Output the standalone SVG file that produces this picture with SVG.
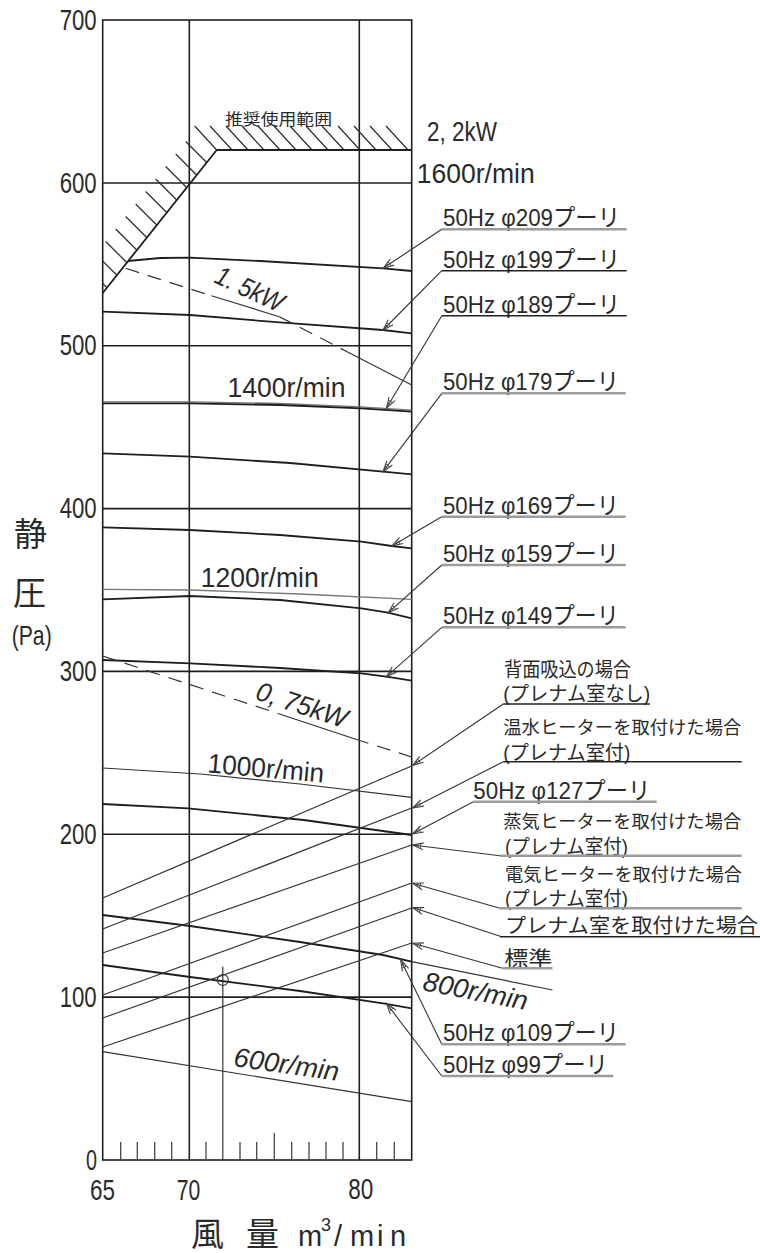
<svg xmlns="http://www.w3.org/2000/svg" width="760" height="1253" viewBox="0 0 760 1253">
<style>
text{font-family:"Liberation Sans","Noto Sans CJK JP",sans-serif;fill:#2a2a2a}
.ax{font-size:29px}
.rpm{font-size:27px}
.lbl{font-size:24px}
.jp{font-size:20px}
.jp2{font-size:18.3px}
.it{font-style:italic}
.grid{stroke:#1e1e1e;stroke-width:1.6;fill:none}
.cv{stroke:#1e1e1e;stroke-width:1.8;fill:none;stroke-linejoin:round}
.thin{stroke:#333;stroke-width:1.2;fill:none}
.gr{stroke:#777;stroke-width:1.3;fill:none}
.dash{stroke:#333;stroke-width:1.2;fill:none;stroke-dasharray:14 9}
.ld{stroke:#333;stroke-width:1.1;fill:none;marker-end:url(#ar)}
.ulg{stroke:#9c9c9c;stroke-width:2.4}
.ulb{stroke:#222;stroke-width:1.5}
.hatch{stroke:#333;stroke-width:1.3}
.tick{stroke:#444;stroke-width:1.3}
</style>
<defs>
<marker id="ar" markerUnits="userSpaceOnUse" markerWidth="16" markerHeight="10" refX="0" refY="0" viewBox="-13 -5 14 10" orient="auto">
<path d="M-11,-3.5 L0,0 L-11,3.5" fill="none" stroke="#444" stroke-width="1.1"/>
<path d="M-8,-2.4 L-8,2.4 M-5.5,-1.6 L-5.5,1.6" stroke="#444" stroke-width="0.9"/>
</marker>
<clipPath id="fr"><rect x="102.7" y="20" width="309" height="1140"/></clipPath>
</defs>

<g id="grid">
<rect x="102.7" y="20" width="309" height="1140" class="grid"/>
<line x1="189.3" y1="20" x2="189.3" y2="1160" class="grid"/>
<line x1="359.3" y1="20" x2="359.3" y2="1160" class="grid"/>
<line x1="102.7" y1="183" x2="411.7" y2="183" class="grid"/>
<line x1="102.7" y1="345.7" x2="411.7" y2="345.7" class="grid"/>
<line x1="102.7" y1="508.6" x2="411.7" y2="508.6" class="grid"/>
<line x1="102.7" y1="671.4" x2="411.7" y2="671.4" class="grid"/>
<line x1="102.7" y1="834.3" x2="411.7" y2="834.3" class="grid"/>
<line x1="102.7" y1="997.1" x2="411.7" y2="997.1" class="grid"/>
</g>

<g id="ticks">
<path class="tick" d="M120.7,1160V1142 M137.3,1160V1142 M154.7,1160V1142 M171.7,1160V1142 M206,1160V1142 M240,1160V1142 M256.7,1160V1142 M274.3,1160V1133 M291.7,1160V1142 M309,1160V1142 M326,1160V1142 M343,1160V1142 M376.7,1160V1142 M394.3,1160V1142"/>
</g>

<g id="axis-labels">
<text class="ax" x="59.7" y="29.5" textLength="37" lengthAdjust="spacingAndGlyphs">700</text>
<text class="ax" x="59.7" y="192.5" textLength="37" lengthAdjust="spacingAndGlyphs">600</text>
<text class="ax" x="59.7" y="355.2" textLength="37" lengthAdjust="spacingAndGlyphs">500</text>
<text class="ax" x="59.7" y="518.1" textLength="37" lengthAdjust="spacingAndGlyphs">400</text>
<text class="ax" x="59.7" y="680.9" textLength="37" lengthAdjust="spacingAndGlyphs">300</text>
<text class="ax" x="59.7" y="843.8" textLength="37" lengthAdjust="spacingAndGlyphs">200</text>
<text class="ax" x="59.7" y="1006.6" textLength="37" lengthAdjust="spacingAndGlyphs">100</text>
<text class="ax" x="86" y="1170" textLength="11" lengthAdjust="spacingAndGlyphs">0</text>
<text class="ax" x="90" y="1200" textLength="25" lengthAdjust="spacingAndGlyphs">65</text>
<text class="ax" x="176.7" y="1200" textLength="23.5" lengthAdjust="spacingAndGlyphs">70</text>
<text class="ax" x="348.3" y="1199" textLength="25" lengthAdjust="spacingAndGlyphs">80</text>
<text x="14" y="546" style="font-size:33px">静</text>
<text x="13" y="605" style="font-size:33px">圧</text>
<text x="11.7" y="645" style="font-size:28px" textLength="40" lengthAdjust="spacingAndGlyphs">(Pa)</text>
<text y="1246" style="font-size:33px"><tspan x="191">風</tspan><tspan x="246">量</tspan><tspan x="298" style="font-size:29px">m</tspan><tspan x="321" dy="-15" style="font-size:18px">3</tspan><tspan x="334 350 377 390" dy="15" style="font-size:29px">/min</tspan></text>
</g>

<g id="hatch" clip-path="url(#fr)">
<path class="hatch" d="M194.7,126L216.7,150 M210,126L232,150 M226,126L248,150 M242,126L264,150 M258,126L280,150 M274,126L296,150 M290,126L312,150 M306,126L328,150 M322,126L344,150 M338,126L360,150 M354,126L376,150 M370,126L392,150 M386,126L408,150"/>
<path class="hatch" d="M185.7,141.5L206.7,162.5 M175.7,154L196.7,175 M165.7,166.5L186.7,187.5 M155.7,179L176.7,200 M145.7,191.5L166.7,212.5 M135.7,204L156.7,225 M125.7,216.5L146.7,237.5 M115.7,229L136.7,250 M105.7,241.5L126.7,262.5 M95.7,254L116.7,275 M85.7,266.5L106.7,287.5"/>
<path class="cv" d="M102.7,293 L216.7,150 L553,150"/>
<text x="225" y="125" style="font-size:16px" textLength="107" lengthAdjust="spacingAndGlyphs">推奨使用範囲</text>
</g>
<text class="rpm" x="427" y="141" textLength="70" lengthAdjust="spacingAndGlyphs">2, 2kW</text>
<text class="rpm" x="416.7" y="183" textLength="118" lengthAdjust="spacingAndGlyphs">1600r/min</text>

<g id="curves">
<polyline class="cv" points="128,261 160,258 190,257.7 260,261 383,268.3 411.7,271"/>
<polyline class="cv" points="102.7,311.7 190,315 283,322.7 383,330 411.7,333.3"/>
<polyline class="gr" points="102.7,401.8 190,401.8 280,403.5 361,406.8 411.7,410.2"/>
<polyline class="cv" points="102.7,403.3 190,403.3 280,405 361,408.3 411.7,411.7"/>
<polyline class="cv" points="102.7,453.3 190,456.7 290,463 383,471.7 411.7,474.3"/>
<polyline class="cv" points="102.7,527.3 190,530 280,535 361.4,541.7 391.8,546 411.7,548.3"/>
<polyline class="gr" points="102.7,589.3 190,590 300,594 411.7,599.3"/>
<polyline class="cv" points="102.7,599.3 190,596 280,600 361.4,608.3 388,612.7 411.7,618.3"/>
<polyline class="cv" points="102.7,660 190,663.3 280,668 361,673.3 386.4,676.7 411.7,680.7"/>
<polyline class="thin" points="102.7,768 200,774 300,784 411.7,797.3"/>
<polyline class="cv" points="102.7,804 188,808.3 303.7,820 411.7,835"/>
<polyline class="cv" points="102.7,915 190,926 300,942 383,955 411.7,961.7"/>
<line class="thin" x1="411.7" y1="961.7" x2="552.5" y2="990"/>
<polyline class="cv" points="102.7,965 190,977 300,991 383,1003.3 411.7,1008.3"/>
<line class="thin" x1="102.7" y1="1051.7" x2="411.7" y2="1101.7"/>
</g>

<g id="power-lines">
<path class="dash" d="M125.7,268.3 L211.4,295.7"/>
<path class="thin" d="M211.4,295.7 L279.3,316.7"/>
<path class="dash" d="M279.3,316.7 L347.1,351.7"/>
<path class="thin" d="M347.1,351.7 L411.7,385"/>
<path class="dash" d="M102.7,656 L278,713.5"/>
<path class="thin" d="M278,713.5 L355,739"/>
<path class="dash" d="M355,739 L411.7,757"/>
<text class="rpm it" transform="translate(249,290) rotate(25)" x="-36" y="8" textLength="72" lengthAdjust="spacingAndGlyphs">1. 5kW</text>
<text class="rpm it" transform="translate(301.5,706) rotate(18)" x="-47" y="8" textLength="94" lengthAdjust="spacingAndGlyphs">0, 75kW</text>
</g>

<g id="system-lines">
<line class="thin" x1="102.7" y1="898" x2="411.7" y2="766"/>
<line class="thin" x1="102.7" y1="929" x2="411.7" y2="808"/>
<line class="thin" x1="102.7" y1="953" x2="411.7" y2="845"/>
<line class="thin" x1="102.7" y1="995" x2="411.7" y2="883"/>
<line class="thin" x1="102.7" y1="1018" x2="411.7" y2="908"/>
<line class="thin" x1="102.7" y1="1047" x2="411.7" y2="943"/>
</g>

<g id="point">
<line class="thin" x1="222.8" y1="966.7" x2="222.8" y2="1160"/>
<circle cx="222.8" cy="980" r="5.5" fill="none" stroke="#333" stroke-width="1.2"/>
</g>

<g id="rpm-labels">
<text class="rpm" x="227.5" y="396.5" textLength="118" lengthAdjust="spacingAndGlyphs">1400r/min</text>
<text class="rpm" x="200.7" y="586.5" textLength="118" lengthAdjust="spacingAndGlyphs">1200r/min</text>
<text class="rpm" transform="translate(266,768) rotate(5)" x="-58.5" y="9.5" textLength="117" lengthAdjust="spacingAndGlyphs">1000r/min</text>
<text class="rpm it" transform="translate(475.7,990.8) rotate(11)" x="-53" y="9.5" textLength="106" lengthAdjust="spacingAndGlyphs">800r/min</text>
<text class="rpm it" transform="translate(286.5,1064) rotate(8)" x="-53" y="9.5" textLength="106" lengthAdjust="spacingAndGlyphs">600r/min</text>
</g>

<g id="connectors">
<line class="ld" x1="441.8" y1="229.3" x2="383" y2="268.3"/>
<line class="ld" x1="441.8" y1="270.7" x2="383" y2="330"/>
<line class="ld" x1="441.8" y1="315.7" x2="386.4" y2="408.3"/>
<line class="ld" x1="441.8" y1="393.3" x2="383" y2="471.7"/>
<line class="ld" x1="441.8" y1="516.7" x2="391.8" y2="546"/>
<line class="ld" x1="441.8" y1="565" x2="388.2" y2="612.7"/>
<line class="ld" x1="441.8" y1="627.3" x2="386.4" y2="676.7"/>
<line class="ld" x1="503.3" y1="704" x2="412.5" y2="765.5"/>
<line class="ld" x1="503.3" y1="761.7" x2="412.5" y2="808"/>
<line class="ld" x1="473.3" y1="801.7" x2="412.5" y2="834"/>
<line class="ld" x1="500" y1="855.7" x2="412.5" y2="845"/>
<line class="ld" x1="500" y1="908.3" x2="412.5" y2="883.3"/>
<line class="ld" x1="501.7" y1="936.7" x2="412.5" y2="907.5"/>
<line class="ld" x1="502.5" y1="968.3" x2="412.5" y2="943.3"/>
<line class="ld" x1="441.8" y1="1044.3" x2="400.7" y2="960"/>
<line class="ld" x1="441.8" y1="1076" x2="386.4" y2="1003.3"/>
</g>

<g id="label-209"><text class="lbl" x="443" y="226" textLength="177" lengthAdjust="spacingAndGlyphs">50Hz φ209プーリ</text><line class="ulg" x1="441.8" y1="229.3" x2="626.7" y2="229.3"/></g>
<g id="label-199"><text class="lbl" x="443" y="267.5" textLength="177" lengthAdjust="spacingAndGlyphs">50Hz φ199プーリ</text><line class="ulb" x1="441.8" y1="270.7" x2="626.7" y2="270.7"/></g>
<g id="label-189"><text class="lbl" x="443" y="312.5" textLength="177" lengthAdjust="spacingAndGlyphs">50Hz φ189プーリ</text><line class="ulb" x1="441.8" y1="315.7" x2="626.7" y2="315.7"/></g>
<g id="label-179"><text class="lbl" x="443" y="390" textLength="176" lengthAdjust="spacingAndGlyphs">50Hz φ179プーリ</text><line class="ulg" x1="441.8" y1="393.3" x2="625.7" y2="393.3"/></g>
<g id="label-169"><text class="lbl" x="443" y="513.5" textLength="176" lengthAdjust="spacingAndGlyphs">50Hz φ169プーリ</text><line class="ulg" x1="441.8" y1="516.7" x2="625.7" y2="516.7"/></g>
<g id="label-159"><text class="lbl" x="443" y="562" textLength="176" lengthAdjust="spacingAndGlyphs">50Hz φ159プーリ</text><line class="ulg" x1="441.8" y1="565" x2="625.7" y2="565"/></g>
<g id="label-149"><text class="lbl" x="443" y="624" textLength="176" lengthAdjust="spacingAndGlyphs">50Hz φ149プーリ</text><line class="ulg" x1="441.8" y1="627.3" x2="625.7" y2="627.3"/></g>
<g id="label-rear"><text class="jp" x="504" y="677" textLength="127" lengthAdjust="spacingAndGlyphs">背面吸込の場合</text><text class="jp" x="503.3" y="701" textLength="147" lengthAdjust="spacingAndGlyphs">(プレナム室なし)</text><line class="ulb" x1="503.3" y1="704" x2="650" y2="704"/></g>
<g id="label-hotwater"><text class="jp2" x="503.3" y="734" textLength="238" lengthAdjust="spacingAndGlyphs">温水ヒーターを取付けた場合</text><text class="jp" x="503.3" y="759.5" textLength="127" lengthAdjust="spacingAndGlyphs">(プレナム室付)</text><line class="ulb" x1="503.3" y1="761.7" x2="741.7" y2="761.7"/></g>
<g id="label-127"><text class="lbl" x="473.3" y="798.5" textLength="177" lengthAdjust="spacingAndGlyphs">50Hz φ127プーリ</text><line class="ulg" x1="473.3" y1="801.7" x2="656.7" y2="801.7"/></g>
<g id="label-steam"><text class="jp2" x="503.3" y="827.5" textLength="238" lengthAdjust="spacingAndGlyphs">蒸気ヒーターを取付けた場合</text><text class="jp" x="505" y="853.5" textLength="123" lengthAdjust="spacingAndGlyphs">(プレナム室付)</text><line class="ulg" x1="500" y1="855.7" x2="741.7" y2="855.7"/></g>
<g id="label-electric"><text class="jp2" x="505" y="880.5" textLength="237" lengthAdjust="spacingAndGlyphs">電気ヒーターを取付けた場合</text><text class="jp" x="505" y="906" textLength="123" lengthAdjust="spacingAndGlyphs">(プレナム室付)</text><line class="ulg" x1="500" y1="908.3" x2="741.7" y2="908.3"/></g>
<g id="label-plenum"><text class="jp" x="505" y="933" textLength="253" lengthAdjust="spacingAndGlyphs">プレナム室を取付けた場合</text><line class="ulb" x1="500" y1="936.7" x2="760" y2="936.7"/></g>
<g id="label-std"><text class="jp" x="504.3" y="965.5" textLength="48" lengthAdjust="spacingAndGlyphs">標準</text><line class="ulg" x1="502.5" y1="968.3" x2="552.5" y2="968.3"/></g>
<g id="label-109"><text class="lbl" x="443" y="1041" textLength="176" lengthAdjust="spacingAndGlyphs">50Hz φ109プーリ</text><line class="ulg" x1="441.8" y1="1044.3" x2="625.7" y2="1044.3"/></g>
<g id="label-99"><text class="lbl" x="443" y="1073" textLength="165" lengthAdjust="spacingAndGlyphs">50Hz φ99プーリ</text><line class="ulg" x1="441.8" y1="1076" x2="613.2" y2="1076"/></g>
</svg>
